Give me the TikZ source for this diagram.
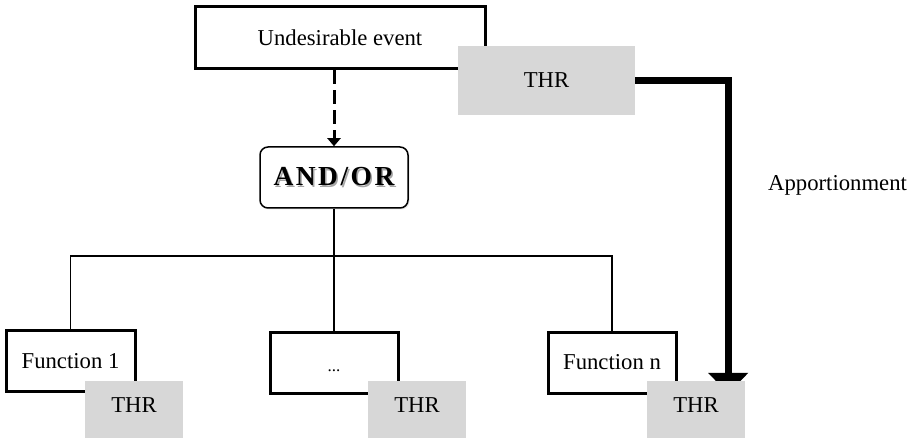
\documentclass[tikz,border=0pt]{standalone}
\usepackage{fontspec}
\setmainfont{Liberation Serif}
\usetikzlibrary{arrows.meta,calc,shadows,backgrounds}
\definecolor{thrgray}{RGB}{215,215,215}
\newcommand{\shadedword}[1]{\makebox[0pt][l]{\hspace{1.5pt}\raisebox{-1.5pt}{\textcolor{black!35}{#1}}}#1}
\begin{document}
\begin{tikzpicture}[x=1pt,y=-1pt,
  every node/.style={font=\fontsize{22.7}{27}\selectfont, inner sep=0pt},
  eventbox/.style={draw, line width=3pt, fill=white, minimum width=290pt, minimum height=62pt},
  funcbox/.style={draw, line width=3pt, fill=white, minimum width=128pt, minimum height=61pt},
  thrbox/.style={fill=thrgray, minimum width=98pt, minimum height=57pt},
  thrlow/.style={thrbox, text depth=9pt},
  gatebox/.style={draw, line width=1.5pt, rounded corners=8pt, fill=white,
    minimum width=148pt, minimum height=61pt,
    font=\fontsize{27.5}{30}\selectfont\bfseries\addfontfeature{LetterSpace=9},
    drop shadow={opacity=0.18, shadow xshift=1.5pt, shadow yshift=-1.5pt}},
  link/.style={line width=1.6pt},
  dashlink/.style={line width=3pt, dash pattern=on 14pt off 6pt,
    -{Triangle[length=8pt,width=13pt]}},
  apport/.style={line width=7pt, -{Triangle[length=21pt,width=39pt]}}
]
\useasboundingbox (0,0) rectangle (918,438);

% top event and its target
\node[eventbox] (ue) at (340,38) {Undesirable event};
\node[thrbox, minimum width=177pt, minimum height=69pt] (thr0) at (546.5,80.5) {THR};

% gate
\node[gatebox] (andor) at (334,177.5) {\shadedword{AND/OR}};

\draw[dashlink] (andor.north |- ue.south) -- (andor.north);

% functions
\node[funcbox, minimum width=129pt] (f1) at (70.5,361) {Function 1};
\node[funcbox, font=\fontsize{17}{20}\selectfont, text height=17pt, text depth=0pt] (fdots) at (334,362.5) {...};
\node[funcbox] (fn) at (612,362.5) {Function n};

\coordinate (bus) at (334,256);
\draw[link] (andor.south) -- (bus);
\draw[link] (f1.north) |- (bus) -| (fn.north);
\draw[link] (bus) -- (fdots.north);

% allocated targets
\node[thrlow] (thr1) at (134,409.5) {THR};
\node[thrlow] (thr2) at (417,409.5) {THR};
\node[thrlow] (thr3) at (696,409.5) {THR};

% apportionment of the target
\coordinate (apptip) at ($(thr3.north east)+(-17,13)$);
\begin{scope}[on background layer]
  \draw[apport] (thr0.east) -| (apptip);
\end{scope}
\node[anchor=west] (applabel) at (768,185) {Apportionment};
\end{tikzpicture}
\end{document}
